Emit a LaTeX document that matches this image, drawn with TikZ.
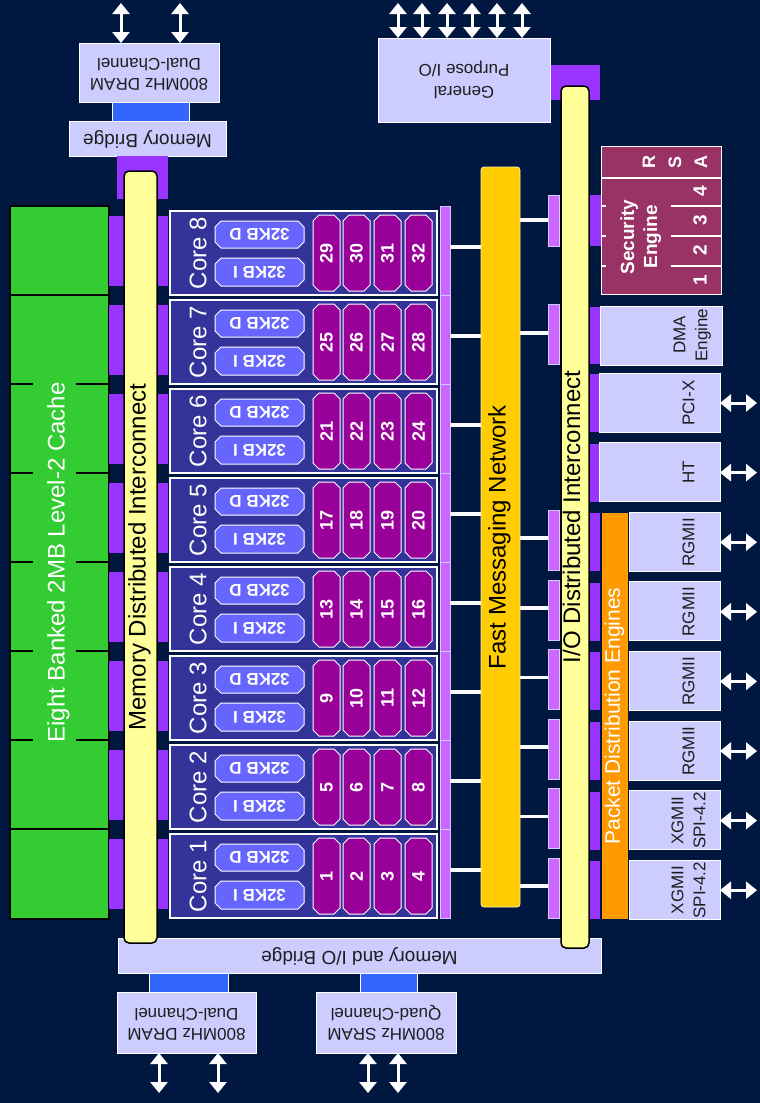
\documentclass[tikz,border=0pt]{standalone}
\usepackage{fontspec}
\setmainfont{Liberation Sans}
\usepackage{graphicx}
\usetikzlibrary{shapes.misc}
\usetikzlibrary{arrows.meta}

\definecolor{navy}{RGB}{0,24,64}
\definecolor{lav}{RGB}{204,204,255}
\definecolor{linkblue}{RGB}{51,102,255}
\definecolor{cachegreen}{RGB}{51,204,51}
\definecolor{busyellow}{RGB}{255,255,153}
\definecolor{fmnyellow}{RGB}{255,204,0}
\definecolor{pdeorange}{RGB}{255,153,0}
\definecolor{tabviolet}{RGB}{153,51,255}
\definecolor{tablight}{RGB}{204,102,255}
\definecolor{coreblue}{RGB}{51,51,153}
\definecolor{lonblue}{RGB}{102,102,255}
\definecolor{thrdpurple}{RGB}{153,0,153}
\definecolor{secred}{RGB}{153,51,102}
\definecolor{labgray}{RGB}{30,30,30}

\newcommand{\fsz}[2]{\fontsize{#1}{#2}\selectfont}
\newcommand{\rtxt}[2]{\rotatebox{#1}{\begin{tabular}{@{}c@{}}#2\end{tabular}}}
% block from its two corners (pixel units, y down)
\newcommand{\blk}[7][]{%
  \node[box,#1,minimum width={((#5)-(#3))*1pt},minimum height={((#6)-(#4))*1pt}]
    (#2) at ({((#3)+(#5))/2},{((#4)+(#6))/2}) {#7};}

\tikzset{
  box/.style={inner sep=0pt, outer sep=0pt},
  lavbox/.style={box, fill=lav, draw=white, line width=1pt, text=labgray},
  bluelink/.style={box, fill=linkblue, draw=white, line width=0.8pt},
  cache/.style={box, fill=cachegreen, draw=black, line width=1.2pt, text=white, font=\fsz{24}{26}},
  bus/.style={box, fill=busyellow, draw=black, line width=1.5pt, rounded corners=5pt, text=black, font=\fsz{24}{26}},
  fmnbar/.style={box, fill=fmnyellow, draw=white!70!fmnyellow, line width=0.8pt, rounded corners=3pt, text=black, font=\fsz{24}{26}},
  pdebar/.style={box, fill=pdeorange, text=white, font=\fsz{21}{24}},
  tabd/.style={box, fill=tabviolet},
  tabl/.style={box, fill=tablight, draw=lav, line width=0.6pt},
  corebox/.style={box, chamfered rectangle, chamfered rectangle xsep=6pt, chamfered rectangle ysep=6pt,
    fill=coreblue, draw=white, line width=1.2pt},
  lonebox/.style={box, chamfered rectangle, chamfered rectangle xsep=3pt, chamfered rectangle ysep=3pt,
    fill=lonblue, draw=white, line width=1pt, text=white, font=\bfseries\fsz{17}{19}},
  thrd/.style={box, chamfered rectangle, chamfered rectangle xsep=3pt, chamfered rectangle ysep=3pt,
    fill=thrdpurple, draw=white, line width=1pt, text=white, font=\bfseries\fsz{18}{20}},
  coretxt/.style={box, text=white, font=\fsz{24}{26}},
  secbox/.style={box, fill=secred, draw=white, line width=1pt},
  sectxt/.style={box, text=white, font=\bfseries\fsz{19}{23}},
  iotxt/.style={box, text=labgray, font=\fsz{17}{22}},
  link/.style={draw=white!92!lav, line width=3.5pt},
  dblarr/.style={draw=white, line width=3pt, {Triangle[width=17pt,length=11pt]}-{Triangle[width=17pt,length=11pt]}},
}

\begin{document}
\begin{tikzpicture}[x=1pt, y=-1pt]
  \useasboundingbox (0,0) rectangle (760,1103);
  \fill[navy] (0,0) rectangle (760,1103);

  % memory bridge (top)
  \blk[bluelink]{lnktop}{112}{101}{189}{122}{}
  \blk[lavbox, font=\fsz{17}{20}]{dramtop}{79}{43}{219}{102}{\rtxt{180}{800MHz DRAM\\Dual-Channel}}
  \blk[lavbox, font=\fsz{19}{22}]{mbr}{69}{121}{226}{156}{\rtxt{180}{Memory Bridge}}
  \blk[tabd]{mbrtab}{117}{156}{168}{199}{}
  \foreach \x in {121,180} {
    \coordinate (dtop\x) at (\x,3);
    \draw[dblarr] (dtop\x |- dramtop.north) -- (dtop\x);
  }

  % level-2 cache
  \blk[cache]{ltwo}{10}{206}{109}{919}{\rtxt{90}{Eight Banked 2MB Level-2 Cache}}
  \foreach \i in {1,7}
    \draw[black, line width=1.2pt] (10,{206+89*\i}) -- (109,{206+89*\i});
  \foreach \i in {2,...,6} {
    \draw[black, line width=1.2pt] (10,{206+89*\i}) -- (33,{206+89*\i});
    \draw[black, line width=1.2pt] (76,{206+89*\i}) -- (109,{206+89*\i});
  }
  \foreach \i in {0,...,7} {
    \blk[tabd]{mtabl\i}{109}{216+89*\i}{124}{286+89*\i}{}
    \blk[tabd]{mtabr\i}{157}{216+89*\i}{168}{286+89*\i}{}
  }

  % memory and I/O bridge (bottom)
  \blk[bluelink]{lnkdram}{149}{972}{228}{993}{}
  \blk[bluelink]{lnksram}{360}{972}{417}{993}{}
  \blk[lavbox, font=\fsz{19}{22}]{miob}{118}{938}{601}{973}{\rtxt{180}{Memory and I/O Bridge}}
  \blk[lavbox, font=\fsz{17}{20}]{drambot}{117}{992}{256}{1053}{\rtxt{180}{800MHz DRAM\\Dual-Channel}}
  \blk[lavbox, font=\fsz{17}{20}]{sram}{316}{992}{456}{1053}{\rtxt{180}{800MHz SRAM\\Quad-Channel}}
  \foreach \x in {159,218} {
    \coordinate (dbot\x) at (\x,1093);
    \draw[dblarr] (dbot\x |- drambot.south) -- (dbot\x);
  }
  \foreach \x in {368,398} {
    \coordinate (sbot\x) at (\x,1093);
    \draw[dblarr] (sbot\x |- sram.south) -- (sbot\x);
  }

  \blk[bus]{mdi}{124}{171}{157}{943}{\rtxt{90}{Memory Distributed Interconnect}}

  % cores
  \foreach \k in {1,...,8} {
    \pgfmathtruncatemacro\i{8-\k}
    \pgfmathsetmacro\ct{211+89*\i}
    \blk[corebox]{core\k}{170}{\ct}{437}{\ct+84}{}
    \node[coretxt] (corelbl\k) at (198,{\ct+42}) {\rotatebox{90}{Core \k}};
    \blk[lonebox]{dc\k}{215}{\ct+10}{304}{\ct+37}{\rotatebox{180}{32KB D}}
    \blk[lonebox]{ic\k}{215}{\ct+47}{304}{\ct+75}{\rotatebox{180}{32KB I}}
    \foreach \j/\xa in {1/313,2/343,3/374,4/405} {
      \pgfmathtruncatemacro\tn{4*\k-4+\j}
      \blk[thrd]{thr\tn}{\xa}{\ct+4}{\xa+27}{\ct+80}{\rotatebox{90}{\tn}}
    }
    \blk[tabl]{cstrip\k}{440}{\ct-5}{450}{\ct+84}{}
    \coordinate (cl\k) at (450,{\ct+36});
  }

  % fast messaging network
  \foreach \k in {1,...,8}
    \draw[link] (cl\k) -- (cl\k -| 481,0);
  \blk[fmnbar]{fmn}{481}{167}{520}{907}{\rtxt{90}{Fast Messaging Network}}

  % I/O side tabs
  \blk[tabd]{giotab}{545}{65}{600}{100}{}
  \blk[lavbox, font=\fsz{17}{22}]{gpio}{378}{38}{550}{122}{\rtxt{180}{General\\Purpose I/O}}
  \foreach \x in {398,422,447,472,497,522} {
    \coordinate (gio\x) at (\x,3);
    \draw[dblarr] (gio\x |- gpio.north) -- (gio\x);
  }

  \blk[tabl]{secfm}{548}{195}{559}{246}{}
  \blk[tabd]{sectab}{589}{195}{601}{246}{}
  \coordinate (secc) at (520,220);
  \draw[link] (secc) -- (secc -| secfm.west);
  \blk[tabl]{dmafm}{548}{304}{559}{364}{}
  \blk[tabd]{dmatab}{589}{307}{600}{364}{}
  \coordinate (dmac) at (520,333);
  \draw[link] (dmac) -- (dmac -| dmafm.west);

  % security engine
  \blk[secbox]{sec}{601}{146}{721}{294}{}
  \draw[white, line width=1.2pt] (601,178) -- (721,178);
  \foreach \y in {206,236,266} {
    \draw[white, line width=1.2pt] (671,\y) -- (721,\y);
    \draw[white, line width=1.2pt] (601,\y) -- (606,\y);
  }
  \node[sectxt] (seclbl) at (641,237) {\rtxt{90}{Security\\Engine}};
  \node[sectxt, font=\bfseries\fsz{18}{26}] (rsa) at (676,162) {\rtxt{90}{R\\S\\A}};
  \foreach \d/\y in {1/280,2/250,3/220,4/191}
    \node[sectxt] (secn\d) at (700,\y) {\rotatebox{90}{\d}};

  % DMA
  \blk[lavbox]{dma}{600}{306}{722}{365}{}
  \node[iotxt] (dmalbl) at (692,335) {\rtxt{90}{DMA\\Engine}};

  % interfaces
  \foreach \n/\nm/\lbl/\xl in {0/pcix/PCI-X/599, 1/ht/HT/599, 2/rgmiia/RGMII/629, 3/rgmiib/RGMII/629,
      4/rgmiic/RGMII/629, 5/rgmiid/RGMII/629, 6/xgmiia/XGMII\\SPI-4.2/629, 7/xgmiib/XGMII\\SPI-4.2/629} {
    \pgfmathsetmacro\bt{373+69.6*\n}
    \blk[tabd]{\nm-tab}{589}{\bt+1}{600}{\bt+59}{}
    \blk[lavbox]{\nm}{\xl}{\bt}{720}{\bt+59}{}
    \node[iotxt] (\nm-lbl) at (690,{\bt+30}) {\rtxt{90}{\lbl}};
    \coordinate (\nm-arr) at (757,{\bt+30});
    \draw[dblarr] (\nm.east |- \nm-arr) -- (\nm-arr);
    \ifnum\n>1
      \blk[tabl]{\nm-fm}{548}{\bt-2}{559}{\bt+58}{}
      \coordinate (\nm-c) at (520,{\bt+26});
      \draw[link] (\nm-c) -- (\nm-c -| \nm-fm.west);
    \fi
  }

  \blk[pdebar]{pde}{602}{513}{628}{919}{\rtxt{90}{Packet Distribution Engines}}
  \blk[bus]{iob}{561}{86}{589}{948}{\rtxt{90}{I/O Distributed Interconnect}}
\end{tikzpicture}
\end{document}
